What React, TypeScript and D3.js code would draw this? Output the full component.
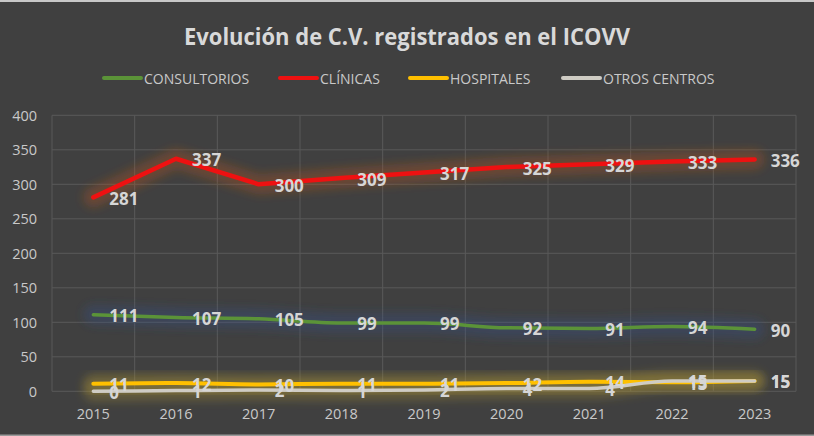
import React from "react";
import * as d3 from "d3";

const years = ["2015", "2016", "2017", "2018", "2019", "2020", "2021", "2022", "2023"];
const consultorios = [111, 107, 105, 99, 99, 92, 91, 94, 90];
const clinicas = [281, 337, 300, 309, 317, 325, 329, 333, 336];
const hospitales = [11, 12, 10, 11, 11, 12, 14, 13, 15];
const otrosCentros = [0, 1, 2, 1, 2, 4, 4, 15, 15];
const yTicks = [0, 50, 100, 150, 200, 250, 300, 350, 400];
const title = "Evolución de C.V. registrados en el ICOVV";

const W = 814;
const H = 436;
const FONT = "'Open Sans', 'Noto Sans', sans-serif";

const series = [
  { name: "CONSULTORIOS", values: consultorios, color: "#5b9338", glow: "#34508a", width: 3.5, smooth: true, legendX: 104 },
  { name: "CLÍNICAS", values: clinicas, color: "#ee1111", glow: "#b8561c", width: 4.5, smooth: false, legendX: 280 },
  { name: "HOSPITALES", values: hospitales, color: "#ffc000", glow: "#a89030", width: 4, smooth: true, legendX: 410 },
  { name: "OTROS CENTROS", values: otrosCentros, color: "#cfccc4", glow: "#a89030", width: 3.5, smooth: true, legendX: 563 },
];

export default function App() {
  const x = d3.scaleBand<string>().domain(years).range([52, 796]).padding(0);
  const y = d3.scaleLinear().domain([0, 400]).range([391.3, 115.3]);
  const cx = (yr: string) => (x(yr) as number) + x.bandwidth() / 2;

  const boundaries = years.map((yr) => x(yr) as number).concat([796]);

  return (
    <div style={{ position: "absolute", left: 0, top: 0, width: W, height: H }}>
      <svg width={W} height={H} style={{ display: "block" }}>
        <defs>
          <filter id="glow" x="-20%" y="-300%" width="140%" height="700%">
            <feGaussianBlur stdDeviation="5" />
          </filter>
        </defs>
        <rect x={0} y={0} width={W} height={H} fill="#404040" />
        <rect x={0} y={0} width={W} height={2} fill="#c8c8c8" />
        <rect x={0} y={H - 1.5} width={W} height={1.5} fill="#9a9a9a" />

        <text
          x={407}
          y={36}
          textAnchor="middle"
          dominantBaseline="central"
          fill="#d9d9d9"
          fontFamily={FONT}
          fontWeight={700}
          fontSize={23}
          textLength={446}
          lengthAdjust="spacingAndGlyphs"
        >
          {title}
        </text>

        {series.map((s) => (
          <g key={"lg" + s.name}>
            <line x1={s.legendX} x2={s.legendX + 37} y1={78} y2={78} stroke={s.color} strokeWidth={4} strokeLinecap="round" />
            <text x={s.legendX + 40} y={78} dominantBaseline="central" fill="#c9c9c9" fontFamily={FONT} fontSize={14}>
              {s.name}
            </text>
          </g>
        ))}

        {yTicks.map((t) => (
          <g key={"yt" + t}>
            <line x1={52} x2={796} y1={y(t)} y2={y(t)} stroke="#595959" strokeWidth={1} />
            <text x={37} y={y(t)} textAnchor="end" dominantBaseline="central" fill="#c9c9c9" fontFamily={FONT} fontSize={14.5}>
              {t}
            </text>
          </g>
        ))}
        {boundaries.map((b, i) => (
          <line key={"vb" + i} x1={b} x2={b} y1={115.3} y2={391.3} stroke="#595959" strokeWidth={1} />
        ))}
        {years.map((yr) => (
          <text key={"xl" + yr} x={cx(yr)} y={419} textAnchor="middle" fill="#c9c9c9" fontFamily={FONT} fontSize={14.5}>
            {yr}
          </text>
        ))}

        {series.map((s) => {
          const gen = d3
            .line<number>()
            .x((_, i) => cx(years[i]))
            .y((v) => y(v))
            .curve(s.smooth ? d3.curveMonotoneX : d3.curveLinear);
          return (
            <path
              key={"gl" + s.name}
              d={gen(s.values) || ""}
              fill="none"
              stroke={s.glow}
              strokeOpacity={0.35}
              strokeWidth={20}
              strokeLinecap="round"
              strokeLinejoin="round"
              filter="url(#glow)"
            />
          );
        })}

        {series.map((s) => {
          const gen = d3
            .line<number>()
            .x((_, i) => cx(years[i]))
            .y((v) => y(v))
            .curve(s.smooth ? d3.curveMonotoneX : d3.curveLinear);
          return (
            <path
              key={"ln" + s.name}
              d={gen(s.values) || ""}
              fill="none"
              stroke={s.color}
              strokeWidth={s.width}
              strokeLinecap="round"
              strokeLinejoin="round"
            />
          );
        })}

        {series.map((s) => (
          <g key={"lb" + s.name}>
            {s.values.map((v, i) => (
              <text
                key={i}
                x={cx(years[i]) + 16}
                y={y(v) + 1}
                dominantBaseline="central"
                fill="#d6d6d6"
                fontFamily={FONT}
                fontWeight={700}
                fontSize={17}
              >
                {v}
              </text>
            ))}
          </g>
        ))}
      </svg>
    </div>
  );
}
